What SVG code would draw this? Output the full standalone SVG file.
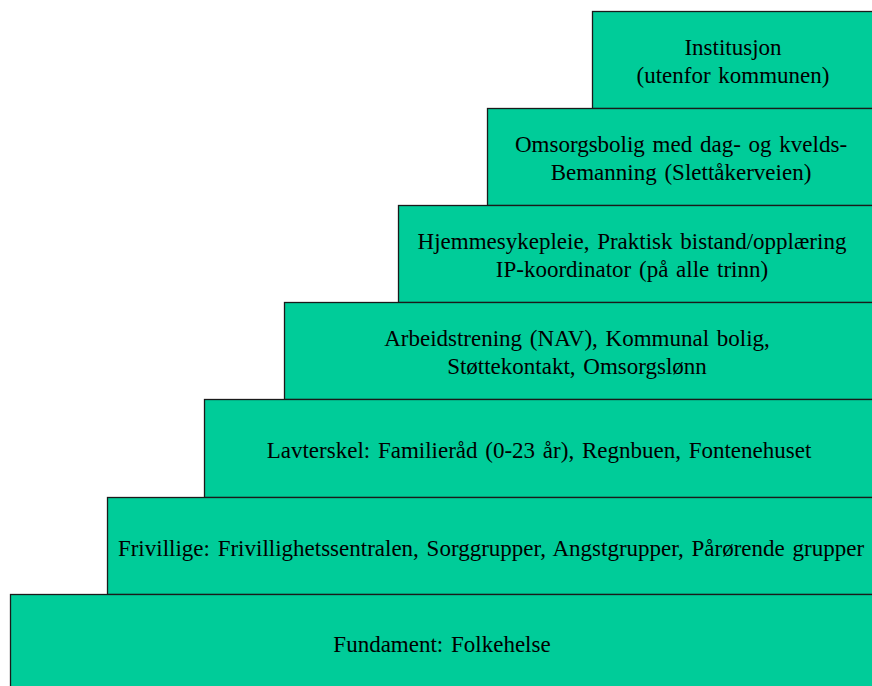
<svg xmlns="http://www.w3.org/2000/svg" width="872" height="686" viewBox="0 0 872 686">
<style>
.s{fill:#00CC99;stroke:#1a1a1a;stroke-width:1.3}
text{font-family:"Liberation Serif","Times New Roman",serif;font-size:23px;word-spacing:2px;fill:#000;text-anchor:middle}
</style>
<rect width="872" height="686" fill="#fff"/>
<g id="step1"><rect class="s" x="592.5" y="11.5" width="290" height="97"/><text x="733" y="55">Institusjon</text><text x="733" y="83">(utenfor kommunen)</text></g>
<g id="step2"><rect class="s" x="487.5" y="108.5" width="395" height="97"/><text x="681" y="152">Omsorgsbolig med dag- og kvelds-</text><text x="681" y="180">Bemanning (Slettåkerveien)</text></g>
<g id="step3"><rect class="s" x="398.5" y="205.5" width="484" height="97"/><text x="632" y="249">Hjemmesykepleie, Praktisk bistand/opplæring</text><text x="632" y="277">IP-koordinator (på alle trinn)</text></g>
<g id="step4"><rect class="s" x="284.5" y="302.5" width="598" height="97"/><text x="577" y="346">Arbeidstrening (NAV), Kommunal bolig,</text><text x="577" y="374">Støttekontakt, Omsorgslønn</text></g>
<g id="step5"><rect class="s" x="204.5" y="399.5" width="678" height="98"/><text x="539" y="458">Lavterskel: Familieråd (0-23 år), Regnbuen, Fontenehuset</text></g>
<g id="step6"><rect class="s" x="107.5" y="497.5" width="775" height="97"/><text x="491" y="556">Frivillige: Frivillighetssentralen, Sorggrupper, Angstgrupper, Pårørende grupper</text></g>
<g id="step7"><rect class="s" x="10.5" y="594.5" width="872" height="100"/><text x="442" y="652">Fundament: Folkehelse</text></g>
<g id="connectors"></g>
</svg>
